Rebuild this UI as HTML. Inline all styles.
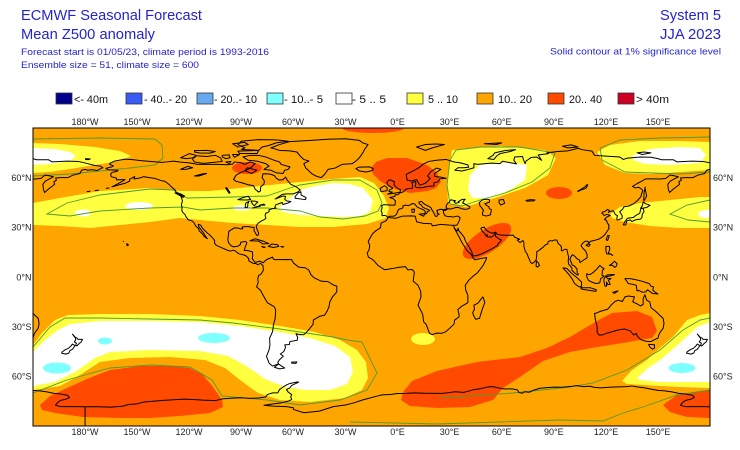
<!DOCTYPE html>
<html><head><meta charset="utf-8">
<style>html,body{margin:0;padding:0;background:#fff}svg{display:block}</style>
</head><body>
<svg width="740" height="450" viewBox="0 0 740 450" xmlns="http://www.w3.org/2000/svg" xmlns:xlink="http://www.w3.org/1999/xlink" font-family="'Liberation Sans', Arial, sans-serif">
<defs>
<clipPath id="mc"><rect x="33" y="128" width="677" height="298"/></clipPath>
</defs>
<rect width="740" height="450" fill="#fff"/>

<!-- Titles -->
<g fill="#2424cc">
<text x="21" y="20" font-size="14.5" textLength="181" lengthAdjust="spacingAndGlyphs">ECMWF Seasonal Forecast</text>
<text x="21" y="39" font-size="14.5" textLength="134" lengthAdjust="spacingAndGlyphs">Mean Z500 anomaly</text>
<text x="21" y="55" font-size="9.5" textLength="248" lengthAdjust="spacingAndGlyphs">Forecast start is 01/05/23, climate period is 1993-2016</text>
<text x="21" y="68" font-size="9.5" textLength="178" lengthAdjust="spacingAndGlyphs">Ensemble size = 51, climate size = 600</text>
<text x="660" y="20" font-size="14.5" textLength="61" lengthAdjust="spacingAndGlyphs">System 5</text>
<text x="660" y="39" font-size="14.5" textLength="61" lengthAdjust="spacingAndGlyphs">JJA 2023</text>
<text x="550" y="54.5" font-size="9.5" textLength="171" lengthAdjust="spacingAndGlyphs">Solid contour at 1% significance level</text>
</g>

<!-- Legend -->
<g stroke="#333" stroke-width="0.8">
<rect x="56" y="93" width="16" height="11" fill="#00008c"/>
<rect x="126" y="93" width="16" height="11" fill="#3a5cf5"/>
<rect x="197" y="93" width="16" height="11" fill="#68aaf0"/>
<rect x="267" y="93" width="16" height="11" fill="#80ffff"/>
<rect x="336" y="93" width="16" height="11" fill="#ffffff"/>
<rect x="407" y="93" width="16" height="11" fill="#ffff40"/>
<rect x="477" y="93" width="16" height="11" fill="#ffa500"/>
<rect x="548" y="93" width="16" height="11" fill="#ff4a00"/>
<rect x="618" y="93" width="16" height="11" fill="#cc0022"/>
</g>
<g fill="#111" font-size="11">
<text x="74" y="103" textLength="34" lengthAdjust="spacingAndGlyphs">&lt;- 40m</text>
<text x="144" y="103" textLength="43" lengthAdjust="spacingAndGlyphs">- 40..- 20</text>
<text x="214" y="103" textLength="43" lengthAdjust="spacingAndGlyphs">- 20..- 10</text>
<text x="284" y="103" textLength="39" lengthAdjust="spacingAndGlyphs">- 10..- 5</text>
<text x="352" y="103" textLength="34" lengthAdjust="spacingAndGlyphs">- 5 .. 5</text>
<text x="428" y="103" textLength="30" lengthAdjust="spacingAndGlyphs">5 .. 10</text>
<text x="498" y="103" textLength="34" lengthAdjust="spacingAndGlyphs">10.. 20</text>
<text x="569" y="103" textLength="33" lengthAdjust="spacingAndGlyphs">20.. 40</text>
<text x="636" y="103" textLength="33" lengthAdjust="spacingAndGlyphs">&gt;  40m</text>
</g>

<!-- Map -->
<g clip-path="url(#mc)">
<rect x="33" y="128" width="677" height="298" fill="#ffa500"/>

<!-- yellow -->
<g fill="#ffff40">
<path d="M33,143 L60,144 95,147 120,151 131,156 120,161 95,165 70,169 50,172 33,173 Z"/>
<path d="M597,152 L610,145 640,141 680,141 710,142 710,170 680,172 650,174 625,173 605,165 Z"/>
<path d="M33,203 L60,198 100,191 150,188 180,191 210,191 250,187 280,184 300,182 333,179 360,177 374,183 384,196 389,208 386,218 367,224 333,227 300,227 267,225 233,223 200,220 180,218 150,222 120,225 90,228 60,226 33,225 Z"/>
<path d="M452,150 L500,146 545,150 556,158 548,175 525,188 495,198 465,207 448,203 447,180 Z"/>
<path d="M610,214 L620,207 640,203 670,200 700,197 710,197 710,228 680,228 650,226 625,222 612,218 Z"/>
<path d="M33,345 L42,333 55,320 68,315 100,314 150,314 200,316 240,320 280,326 315,332 340,340 357,350 366,362 368,378 362,390 345,398 310,402 280,400 258,393 240,380 225,368 205,360 170,357 130,358 100,362 80,375 60,386 33,390 Z"/>
<ellipse cx="423" cy="339" rx="12" ry="6"/>
<path d="M622,381 L632,370 647,360 660,348 673,337 687,320 700,315 710,313 710,388 680,387 660,386 627,384 Z"/>
</g>

<!-- white -->
<g fill="#ffffff">
<path d="M33,148 L55,149 70,152 76,156 70,161 50,164 33,165 Z"/>
<path d="M633,155 L650,149 680,147 700,148 706,155 700,163 670,165 645,164 633,160 Z"/>
<ellipse cx="83" cy="213" rx="8" ry="3.5"/>
<ellipse cx="139" cy="206" rx="14" ry="4"/>
<ellipse cx="242" cy="208" rx="9" ry="2.8"/>
<path d="M278,208 L290,198 300,190 315,186 333,183 350,184 363,188 373,200 370,212 360,216 343,217 320,216 300,215 283,212 Z"/>
<path d="M470,175 L480,165 510,162 527,165 525,180 510,190 490,198 472,198 468,190 Z"/>
<ellipse cx="707" cy="214" rx="9" ry="4"/>
<path d="M33,352 L45,340 58,330 70,324 100,321 150,321 200,322 240,326 280,332 310,338 335,346 350,357 353,372 347,384 330,390 305,390 285,387 265,379 248,367 228,356 200,351 150,350 110,352 95,358 75,372 55,382 33,386 Z"/>
<path d="M637,378 L648,368 660,360 680,343 697,327 710,322 710,382 680,382 660,382 640,380 Z"/>
</g>

<!-- cyan -->
<g fill="#80ffff">
<ellipse cx="57" cy="368" rx="14" ry="5.5"/>
<ellipse cx="105" cy="341" rx="7" ry="3.5"/>
<ellipse cx="214" cy="338" rx="16" ry="5"/>
<ellipse cx="682" cy="368" rx="13.5" ry="5"/>
</g>

<!-- red -->
<g fill="#ff4a00">
<ellipse cx="247" cy="168" rx="15" ry="6"/>
<ellipse cx="373" cy="128" rx="31" ry="5"/>
<path d="M371,168 L376,162 387,158 407,158 427,165 437,173 441,182 436,188 428,191 410,193 392,188 380,181 373,174 Z"/>
<ellipse cx="559" cy="193" rx="13" ry="6"/>
<ellipse cx="487" cy="241" rx="28" ry="11.5" transform="rotate(-33 487 241)"/>
<path d="M40,405 L50,396 67,388 87,379 110,370 140,366 170,366 190,368 203,375 213,387 222,400 223,407 210,413 180,416 150,418 120,418 83,417 55,413 42,410 Z"/>
<path d="M403,392 L412,381 437,371 477,362 520,357 547,348 570,337 597,321 612,313 637,311 652,317 657,331 652,338 623,343 597,347 570,352 543,361 520,377 503,388 493,400 470,407 437,408 410,406 401,400 Z"/>
<path d="M663,405 L677,395 697,392 710,390 710,418 687,417 670,412 Z"/>
</g>

<!-- significance contours -->
<g fill="none" stroke="#4f9a30" stroke-width="0.9">
<path d="M33,139 L100,138 155,139 162,145 163,158 155,165 130,168 100,171 70,174 33,176"/>
<path d="M710,137 L660,138 620,140 600,148 602,160 625,172 680,174 710,172"/>
<path d="M47,214 L67,203 100,195 150,189 173,190 187,198 233,197 267,196 290,188 300,185 333,180 360,180 377,190 382,203 378,211 365,216 343,219 320,217 300,211 267,208 233,208 200,210 183,207 150,208 100,211 70,216 47,214 Z"/>
<path d="M450,204 L447,185 450,160 456,150 480,147 520,147 555,153 550,168 532,182 505,193 480,200 462,206 Z"/>
<path d="M710,200 L687,205 670,214 688,220 710,222"/>
<path d="M33,347 L50,327 65,318 100,318 150,319 200,320 233,323 280,329 333,337 347,340 362,342 377,373 367,390 340,400 300,405 267,400 222,396 212,380 190,367 150,365 110,368 67,380 33,393"/>
<path d="M440,398 L513,393 570,387 593,383 627,370 660,350 683,330 700,320 710,318"/>
<path d="M350,422 L437,424 560,420 603,421 623,413 643,407 677,395 710,390"/>
</g>

<!-- coastlines -->
<g id="coastwrap" transform="matrix(1.7359,0,0,-1.6556,397.54,277)" fill="none" stroke="#000" stroke-width="1" stroke-linejoin="round">
<g id="coast">
<path vector-effect="non-scaling-stroke" d="M-166,68.5 L-163,70 -157,71.2 -152,70.8 -148,70.3 -141,69.7 -136,69.2 -133,69.5 -129,70 -125,69.4 -120,68.9 -115,68 -110,68 -104,68 -98,67.8 -95,68.2 -94,69.5 -90,69 -88,68 -85,69.5 -82,68.5 -84,66.5 -87,64.5 -90.5,63 -93,61.5 -94.5,59 -93,57.8 -90,57 -86,55.7 -83,55.2 -82,53 -80,51.3 -79,52 -78.8,54.5 -77,56 -76.7,58 -78,60 -77.5,62.4 -74,62.3 -71,61.3 -69.7,59.5 -68,58.5 -66,58.8 -64.5,60.3 -63.5,58.5 -61.5,56 -58.5,54.5 -56,52.5 -57.5,51.3 -60,50.2 -64,50.2 -66.5,49.8 -70.5,47.1 -66,48.9 -64.5,48.7 -65,47 -64,46 -61.5,45.6 -63,44.7 -66,43.8 -66.5,45 -69,44 -70.2,43.6 -70.7,42.1 -70,41.6 -71.5,41.4 -74,40.6 -74,39.6 -75,38.8 -76,38.5 -76.3,37 -75.8,35.5 -76.7,34.7 -78.5,33.8 -80.5,32.3 -81.4,30.7 -81,29 -80,26.5 -80.3,25.2 -81.2,25.2 -81.8,26.5 -82.7,28 -82.6,29.8 -84,30.1 -86,30.4 -88,30.4 -89.5,30.2 -89.2,29.1 -90.5,29.1 -92,29.6 -94,29.7 -95.3,28.8 -97.2,27.6 -97.4,25.5 -97.8,22.5 -97.2,20.5 -96,19 -94.5,18.2 -92,18.6 -90.6,19.5 -90.3,21 -87.5,21.5 -86.8,20.5 -87.7,18.3 -88.3,16.1 -86,15.9 -83.6,15.2 -83.4,13 -83.7,11 -82.2,9 -81.5,8.9 -79.5,9.6 -77.4,8.6 -75.5,10.5 -72,12 -71.5,10.8 -71,10.5 -68,10.5 -64,10.6 -61,10.5 -60,8.5 -57,6 -53,5.5 -51,4 -50,1.5 -48,-0.5 -44,-2.5 -40,-2.8 -37,-4.8 -35,-5.5 -35,-9 -37.5,-12 -39,-15 -39.5,-18 -40.5,-20.5 -42,-23 -45,-23.8 -48.5,-26 -48.6,-28.5 -50.5,-31 -52.5,-33.5 -54,-34.8 -56.5,-34.8 -58.5,-34.2 -57.5,-36.5 -57.8,-38.2 -62,-39 -62.3,-40.8 -65,-41 -64.5,-42.5 -65.5,-45 -67.5,-46.5 -65.8,-47.8 -68,-50 -69,-51.6 -68.5,-52.5 -70,-53 -72,-53.8 -74,-52 -75.5,-48 -74,-44 -73.5,-41 -73.7,-37 -72,-33 -71.5,-29 -70.5,-25 -70.2,-20 -71,-18 -75,-15.5 -76.4,-13 -79,-8 -81.2,-6 -80.3,-3.4 -80.5,-1 -80,1 -78.8,1.5 -77.3,4 -77.5,7 -77.9,7.2 -79,8.3 -80.4,7.4 -81.7,8.1 -83.5,8.4 -85.7,9.8 -85.7,11.2 -87.5,12.9 -89.3,13.5 -91.4,14 -93.5,15.8 -94.8,16.2 -96.5,15.6 -99,16.6 -101.5,17.8 -104.5,19.2 -105.5,20.6 -105.3,21.7 -106,23 -108,25.2 -109.5,26.5 -111,28 -112.3,29.4 -113.4,31.3 -114.8,31.8 -114.5,30.3 -113.3,28.7 -112,27 -110.5,24.3 -109.5,23.2 -110.2,23.6 -111.6,24.7 -112.3,26 -114.2,27.8 -114.6,29.2 -116.3,30.8 -117.1,32.5 -118.3,33.8 -120.6,34.6 -121.9,36.5 -122.5,37.8 -123.7,39 -124.3,40.4 -124.1,42 -124.5,43.5 -123.9,46.2 -124.7,48.4 -123.2,48.2 -122.8,49 -125,50.2 -127.5,51 -128,52.4 -130.2,54.4 -131.5,55.8 -133.8,57.7 -136.6,58.4 -139.9,59.6 -143,60 -146.3,60.6 -148.5,59.8 -151.8,59.2 -151.4,60.7 -154.4,59 -154.3,57.9 -157,56.6 -160,55.8 -162.6,55 -164.6,54.5 -161.8,55.9 -159,57.6 -157,58.8 -158.5,58.8 -161.9,58.7 -162,59.7 -164.9,60.6 -165.3,62 -164.5,63.2 -161.5,63.8 -161,64.5 -163.6,64.6 -166.4,64.7 -168,65.6 -164.5,66.6 -163.7,67.1 -166,68.2 -166,68.5"/>
<path vector-effect="non-scaling-stroke" d="M-123.4,48.3 L-125,49 -128.2,50.8 -126,50.4 Z M-73,78 L-68,80 -62,81.8 -50,82.5 -40,83.2 -30,83.5 -22,82.5 -20,81 -17,80 -19,77 -20,75 -22,72 -24,70 -26,68.5 -32,68 -36,65.8 -40,65 -42,62 -44,60 -47,61 -49.5,62.5 -51,64 -53,66 -54,68.5 -51,70 -54,71 -56,73 -58,75.5 -62,76.2 -68,76.5 -71,77.5 Z M-80,73.5 L-76,72.5 -71,70.5 -68,69.5 -67,68 -62,66.5 -63,65 -65,64.5 -66,62.5 -70,63 -73,64.5 -77,65 -74,67 -76,68.5 -81,70 -86,70.5 -89,72.5 -85,73.5 Z M-118,72 L-116,73.2 -110,72.8 -105,73.5 -102,72 -101,69.8 -106,69.2 -112,68.6 -117,69.5 -118,71 Z M-90,77 L-80,76.5 -78,78.5 -74,79.5 -70,81 -63,82 -70,82.8 -80,83 -90,82 -92,80 -88,78 Z M-125,72 L-120,74.5 -116,73.5 -117,72 -122,71.5 Z M-92,76 L-80,76.5 -81,74.6 -91,74.6 Z M-117,76.3 L-110,76.5 -105,75.8 -108,74.8 -114,74.9 -117,75.5 Z M-101,73.5 L-97,73.8 -96.5,72 -99,71.5 -101,72.5 Z M-95,74 L-91,74 -94,72.3 Z M-95,80.5 L-88,81.3 -86,80 -92,78.5 Z M-86.5,66 L-81,64.5 -84,62.5 -88,64.2 Z M-99,69.5 L-96,69.8 -97,68.5 Z M-59,47.6 L-55,47 -53,46.7 -52.7,48 -55.5,49.5 -55.7,51.5 -57.3,50.7 -59,48.5 Z M-85,21.9 L-82,23.1 -77,21.5 -74.2,20.2 -77.5,19.9 -80,21.7 -83,21.8 Z M-74.5,18.5 L-72.5,19.9 -69,19.5 -68.4,18.5 -71.5,17.8 Z M-78.3,18.4 L-76.2,18 -77,17.8 Z M-67.2,18.4 L-65.6,18.3 -66,18 Z M-156,20.2 L-155,19.3 -155.8,18.9 Z M-158.2,21.6 L-157.7,21.3 M-166,53.8 L-168,53.5 M-172,52.5 L-174.5,52.2 M-177,51.8 L-179,51.6"/>
<path vector-effect="non-scaling-stroke" d="M-92,46.7 L-89,48 -86,48.8 -84.6,46.8 -87,46.5 -90,46.6 Z M-87.8,42 L-87.5,44.5 -85.5,45.8 -86.3,44 -86.3,42.2 Z M-84.5,45.9 L-82,45.8 -80.5,45.3 -81.7,44 -82.5,43 -83.5,44 Z M-83.4,41.7 L-79,42.8 -81,42.5 Z M-79.7,43.3 L-76.3,43.5 -77,44 Z M-125,65 L-121,66.8 -118,66 -122,65 Z M-117,61 L-112,62.4 -110,62.5 -114.5,61 Z M-99,53.8 L-97,50.5 -96.5,51 -98.5,54 Z"/>
<path vector-effect="non-scaling-stroke" d="M-68.6,-52.6 L-65,-55 -68,-55.5 -71,-54.5 Z M-61,-51.4 L-58,-51.3 -58.5,-52.2 -61,-52 Z"/>
<path vector-effect="non-scaling-stroke" d="M32.3,31.2 L30,31.3 25,31.8 20,30.9 19.5,32.2 15,32.4 11,33.3 10.2,36.7 8.5,36.9 3,36.8 -1,35.5 -5.5,35.9 -6.5,34 -9.5,32.5 -9.8,29.8 -13,27.5 -14.5,26 -16.9,21.5 -16,19 -16.5,16 -17.5,14.7 -16.8,12 -15,11 -13.3,9.5 -11.3,7 -7.5,4.4 -3,5.1 1,5.9 4.5,6.3 6,4.3 8.5,4.5 9.7,3 9.3,0 9,-2.5 11.8,-5 13.3,-8.5 13.5,-12 11.8,-17 14.5,-22.5 15,-27 16.5,-28.6 18.4,-34 20,-34.8 22.5,-33.9 25.5,-34 27.5,-33.2 30,-31 32.5,-28.5 32.9,-26 35.5,-24 35.3,-22 34.7,-19.7 36.8,-17.8 40.5,-15.5 40.5,-11 39.3,-8 39,-5 41,-2 43.5,0.5 46,2.5 49,6.5 51,10.5 51.3,11.8 48,11.2 44.5,10.4 43.3,11.8 42.5,13.5 40,16 38.5,18.5 37,21 35.7,23.8 34,27 32.5,29.9 M49.2,-12 L50.3,-15.5 49.5,-17.5 48.5,-20.5 47.2,-25 45,-25.5 43.7,-23 43.3,-21.5 44.3,-19.5 44,-17 46.3,-15.8 48,-13.5 Z"/>
<path vector-effect="non-scaling-stroke" d="M-9,37 L-8.9,38.8 -9.5,40 -8.8,42 -9.3,43 -8,43.7 -4,43.4 -1.5,43.4 -1.2,46 -2.5,47.3 -4.5,48 -1.5,48.7 -1.5,49.7 0.2,49.7 1.6,50.9 3.5,51.5 4.7,53 7,53.5 8.5,53.6 8.7,55.5 8.2,57 10.5,57.7 10.5,56 10,54.8 11,54 14,53.9 18,54.8 21,55 21,57 23.5,57.5 24.3,59.3 28,59.6 25,60.3 21.5,60.7 21.3,62.5 25,65 22.5,65.8 19,63.5 17.3,61 18.8,59.5 16.5,57 14.5,56 12.8,55.5 11,58.8 8,58 5.5,58.5 5,62 8,63.5 12,65.8 15,68.3 18,69.8 23,70.6 28,71 31,70 33,69.4 36,69 40.5,67.7 41,66.3 38,66 34.8,66 33,64.5 37,64 39.5,64.6 44,66 44,68.5 46,68 54,68.8 59,68.5 60.5,69.9 65,69 68.5,68.3 67,70.5 67.5,72.5 72,72.8 72.5,71 73.5,68.5 74,70 77,72.2 80,72.5 83,70.5 81,73.7 87,74.5 86,75 92,75.8 98,76.2 104,77.7 106.5,76.9 112,76 113.5,73.5 120,73 128,72.5 130,71 132.5,71.8 140,72.5 146,72.3 150,71.5 152,70.8 159,70.8 161,69.5 168,69.9 170,70 176,69.8 180,68.9 M180,65 L178,64.5 177,62.5 173,61.5 170,60 166,60 163,59.8 163.5,58.5 162,57.5 162.5,56 160,54 158.5,52.8 156.7,51 156,53 155.7,56 157,57.8 159,59 161.8,60.5 160,61 157,61.6 154.5,59.5 151,59.2 147,59.3 143,59.3 140.5,57.8 138,56.4 135.3,54.7 137,53.8 139,54.2 140.5,53.2 141.3,52.2 140.5,50 140.2,48.5 138.5,46.5 136,44.2 133,42.8 131,42.5 130.3,42.3 129.7,41 128,39.5 129.4,37 129.4,35.5 127.5,34.6 126.5,34.4 126.3,35.5 126.7,37 125.5,37.7 125,38.7 124.3,40 122,39.5 121.5,38.9 122,40.3 121,40.8 119.3,39.5 118,39.2 117.7,38.5 118.8,37.5 119,37.2 120.7,37.8 122.5,37.2 120.5,36.2 119.2,34.8 120.3,34.2 121,32.5 121.9,31 121.5,30.2 122,29.5 121,28 119.5,25.7 117.5,23.8 116,22.9 114,22.3 111,21.5 110.2,20.3 109.7,21.6 108,21.6 106.5,20.2 105.7,18.9 106.6,17.5 108.3,15.8 109.2,13.5 109.2,11.6 107.5,10.5 105.1,8.7 104.8,10.2 103,11.3 102.5,12.2 100.8,13.5 100,12.4 99.3,10.5 100.3,8.3 100.5,7.3 101.7,6.8 103.3,5 103.5,2.8 104.2,1.4 103.5,1.3 102,2.5 100.5,4 100.4,5.5 98.5,8 98.3,10 98.6,12 98.2,13.5 97.6,16.5 97,16.8 96,16.6 95,15.8 94.3,16 94.5,17.5 94,19 93,19.8 92.4,20.6 91.8,22.3 90.5,22.4 89,21.7 88,22 86.8,21.4 86.5,20 85,19.3 84,18.1 82.3,16.8 81.2,15.8 80.2,15.3 80.2,13 79.8,10.2 79,9.3 78.2,8.6 77.5,8.1 76.5,9 76,10.5 75.4,11.8 74.6,14 73.5,15.8 72.8,18.5 72.8,20.5 72.6,21.4 72.2,22 70.5,20.8 69,22.3 70.3,22.8 68.8,23.5 67.5,24 66.7,25.3 64.5,25.2 62,25.2 59.5,25.4 57.3,25.8 56.6,27.1 54.7,26.5 53.5,26.8 51.5,27.9 50.5,29.2 50,30.1 48.5,29.8 48,29.3 48.8,27.6 50,26.6 50.8,25 51.4,24.6 51.6,25.8 51.6,24.3 52.6,24.2 54,24.1 55.5,25.2 56.3,26.4 56.5,24.5 57.8,23.5 58.8,22.8 59.8,22.4 58.9,21 58,20.4 57.7,19 56.6,18.5 55.3,17.6 54,16.8 52.2,15.9 49.5,14.5 47.3,13.5 45.4,12.9 43.5,12.7 43,14 42.6,15.8 41.8,17 40.8,19 39.5,21 39,22 38.4,24 37.2,25.6 36.3,26.8 35.2,28 34.9,29.5 34.3,27.8 33.6,28.5 32.6,29.9 32.3,31.2 34.2,31.3 35,32.8 35.8,34.6 36,36 34.5,36.8 32,36.2 30.5,36.5 29,36.5 27.3,37 27,37.8 26.5,38.5 26.5,39.5 26.2,40.1 28,40.4 29,41.2 31,41.1 33.5,42 35,42 37,41.2 38.5,40.9 40,41 41.5,41.5 41.7,42.5 40,43.4 38.2,44.4 37.5,44.7 38.3,46.2 39,47 37,46.8 35,45.5 35.5,45.1 33.5,44.5 32.5,45.4 33.5,46 31,46.6 30.5,46.5 29.7,45.2 28.7,44.3 28,43 28,42 28.8,41.1 27.5,40.9 26.5,40.6 26.2,40.8 25,40.9 24,40.7 23,40.3 22.6,40.1 23,39.3 22.8,38.5 24,38 23,37.4 22.5,36.5 21.7,36.8 21.4,37.7 21,38.5 20.5,39.5 19.8,40.5 19.5,41.5 18.5,42.4 17,43.2 15.5,44 14.5,45 13.7,45.7 12.3,45.3 12.5,44.3 13.7,43.5 14.5,42.2 16,41.4 18,40.6 18.5,40.1 17,39.3 17.1,38.9 16.1,38 15.7,38.3 16,39.5 15.6,40.1 14.8,40.6 13.7,41.2 12.2,41.8 11.1,42.5 10.5,43.3 10.2,43.9 8.8,44.4 7.5,43.8 6.5,43.1 4.5,43.4 3.1,43 3.2,41.9 2,41.2 0.8,41 0,39.6 -0.3,38.5 -0.8,37.6 -2,36.8 -4.4,36.7 -5.6,36 -6.3,36.8 -7.4,37.2 -9,37"/>
<path vector-effect="non-scaling-stroke" d="M-180,68.9 L-175,67.5 -171,66.9 -169.7,66 -171,65.5 -173,64.3 -176,64.8 -178.5,64.5 -180,65 M-180,71.5 L-177,71.3 -178,70.9 -180,71"/>
<path vector-effect="non-scaling-stroke" d="M47,45 L49,46.6 51.5,47 53,46.7 53,45.3 51.2,44.5 50.3,44.3 51.3,43.2 52.6,42.5 52.9,41.2 54,40.8 53.9,39.5 53.5,37.5 51,36.8 49,37.5 48.9,38.6 49.5,40.2 48.5,41.8 47.5,43 Z M58.5,46.5 L61,46.8 61.7,44.5 59.5,43.5 58.5,44.8 Z M104,51.7 L106,52.7 108.5,53.5 109.6,55.6 109.2,55.8 108,54.5 105.5,52.8 103.8,51.8 Z M74,46.3 L76.5,46.7 79.2,46.5 78.5,46 74.5,45.8 Z"/>
<path vector-effect="non-scaling-stroke" d="M-5.7,50 L1.4,51.2 1.7,52.7 0,53.5 -1.5,55 -2,56 -1.8,57.6 -4,58.6 -5,58.6 -6.2,57 -5.5,55.5 -4.8,54.8 -3,54 -3,53.3 -4.5,52.8 -5,51.7 -3,51.3 Z M-6,52.2 L-6,54 -7.5,55.2 -8.5,54.5 -10,53.5 -9.5,51.6 Z M-22,64 L-24,65.5 -22,66.4 -16,66.5 -14,65.5 -14.5,64.3 -18,63.4 Z M11,78.5 L16,80 22,80.3 27,80 20,78 16,76.5 Z M52,71.5 L55,73.5 56,75 62,76.4 68,76.9 65,75.8 59,74.5 57,73 55.5,71 Z M12.4,38 L15.6,38.3 15.1,36.7 Z M8.4,39 L9.6,39.1 9.8,41 8.2,40.9 Z M95,79 L100,79.8 104,78.5 98,78 Z M50,80.5 L60,81 57,80 Z M138,75 L142,75.5 146,75 141,74 Z M79.8,6.5 L80,9.7 81.2,8.5 81.8,7 80.6,6 Z"/>
<path vector-effect="non-scaling-stroke" d="M142,46 L143.5,49 142.5,54 142.7,54.3 142,51 141.8,46.7 Z M130,31.5 L131,33.5 132.5,35.5 136,36 137,37 139.5,38.5 140,40.5 140.2,41.5 141.5,41.3 142,39.5 141,38 140.8,36 140,35 137,34.5 135,33.5 134,34.5 132,33.8 131.5,31.5 Z M140,41.5 L141,43 141.5,45.3 143,44.2 145.5,43.3 143.5,42 141,41.5 Z M120.2,22.5 L121,25 122,25 121,22 Z M108.6,19.2 L110,20.1 111,19.6 110,18.4 Z M120,18.5 L122,18.5 122.3,17 121.5,14.5 124,13 123,13.8 120.5,14 120,16 Z M122,7 L123.5,8 125,9.5 126.5,8 126,6.5 125,5.8 124,7 Z"/>
<path vector-effect="non-scaling-stroke" d="M109,2 L110,1.5 111,1.5 113,3 115,5 116.5,7 117.5,6 119,5 118,4 117.8,1 119,0.5 117,-1 116.5,-3.5 114.5,-4 111.7,-3 110,-2 109,0 Z M95.3,5.5 L97.5,5.2 100.3,2.2 103.5,-0.5 106,-3 106,-5.8 104.5,-5.9 102,-4 100.5,-1 98.5,1.8 Z M105.5,-6.5 L108.5,-6.5 111,-6.5 114.5,-7.7 114.3,-8.7 110,-8 106,-7.3 Z M119.5,-5.5 L119,-3 118.8,-1.5 120,0.7 121,1.3 124.5,1.5 125,1.4 122,0.5 120.2,0.2 121,-1 123,-0.9 121.5,-2 122.5,-4.5 121,-4.5 120.4,-3 120.4,-5.6 Z M131,-1 L134,-1 138,-1.8 141,-2.6 145,-4 146,-5.5 147.5,-6 147,-8 150,-10.3 147,-10 144,-7.7 143,-9 141,-9.2 139,-8.1 138,-8.4 137.5,-5 135,-4.3 133,-4 132,-2.5 Z M124,-9.3 L127,-8.4 125,-9.9 Z"/>
<path vector-effect="non-scaling-stroke" d="M113.5,-22 L114,-26 115,-30 115,-33.5 116,-35 118,-35 121,-33.8 124,-33 126,-32.3 129,-31.6 131,-31.5 134,-32.5 136,-35 137.5,-34 138,-35.5 140,-37.8 143,-38.8 146,-39 148,-37.8 150,-37 150.5,-35 151.5,-33 153,-31 153.5,-28 153,-25 151,-23 149,-21 146,-18.5 145.3,-15 143.5,-14 142.5,-10.7 141.5,-13 141.5,-16.5 140,-17.5 137.5,-16 135.5,-15 136.5,-12 133,-11.5 131,-12 129.5,-14.8 127,-14 125,-15 123,-17 121,-19.5 117,-20.7 114,-22 Z M144.7,-40.7 L148,-40.9 148,-43 146.8,-43.6 145.3,-42.2 Z M172.7,-34.5 L174.5,-36.5 175.5,-37 176,-37.7 178.5,-37.7 177.8,-39.2 176.8,-40 175.3,-41.6 174.6,-41.3 175,-40 173.8,-39.2 174.6,-38 174.5,-37 Z M172.7,-40.5 L174.2,-41.5 173.5,-42.5 172.8,-43.6 171.2,-44.5 170.7,-45.9 169,-46.6 166.5,-46 166.7,-45.3 168.5,-44 170.5,-43 172,-41.5 Z"/>
<path vector-effect="non-scaling-stroke" d="M-180,-78.4 L-175,-78.3 -165,-78.6 -158,-78 -155,-77 -150,-76.6 -146,-75.5 -140,-75 -135,-74.5 -130,-74.2 -123,-73.8 -118,-74 -112,-74.4 -105,-74.7 -101,-73.6 -96,-73.2 -90,-72.9 -85,-73.3 -80,-73.1 -76,-72.5 -75,-71 -72,-70 -69,-70 -68,-68 -66,-66.5 -64,-65.2 -62,-64.3 -58,-63.4 -57,-63.5 -59,-64.5 -61,-65.5 -62,-66.9 -64,-68 -63,-69.5 -61,-71 -61.5,-72.5 -61,-74 -63,-75 -67,-76 -74,-77 -77,-77.5 -72,-78 -64,-78.3 -60,-79 -60,-80 -54,-82 -45,-81 -37,-78.3 -30,-77.3 -25,-76 -20,-74.2 -17,-73.4 -12,-72 -9,-71.2 -4,-71 0,-70.4 5,-70.3 10,-70 15,-70.2 20,-70.3 26,-70.3 30,-69.8 33,-69.3 38,-69.7 40,-69.2 44,-68 48,-67.4 52,-66.4 55,-66.2 58,-67 61,-67.6 66,-67.6 69,-68.2 70,-69.8 72,-70.2 73,-69.3 76,-69.6 78,-68.5 82,-67.2 86,-66.8 90,-66.5 95,-66.6 100,-66.1 103,-65.6 107,-66.2 111,-66 113,-66.6 117,-67 122,-66.6 127,-66.4 132,-66.2 135,-65.8 138,-66.4 142,-66.9 146,-67.7 150,-68.5 154,-68.8 158,-69.4 162,-70.3 166,-70.7 170,-71.5 171,-72.8 169,-73.8 166,-74.5 164,-76 163,-77.5 166,-78.3 170,-78.2 175,-78.3 180,-78.4 M-180,-78.4 L-180,-90"/>
</g>
<use xlink:href="#coast" href="#coast" transform="translate(-360,0)"/>
</g>
</g>
<rect x="33" y="128" width="677" height="298" fill="none" stroke="#000" stroke-width="1"/>

<!-- axis labels -->
<g fill="#222" font-size="9" text-anchor="middle">
<text x="85" y="125">180°W</text><text x="137" y="125">150°W</text><text x="189" y="125">120°W</text><text x="241" y="125">90°W</text><text x="293" y="125">60°W</text><text x="345.5" y="125">30°W</text><text x="397.5" y="125">0°E</text><text x="449.6" y="125">30°E</text><text x="501.7" y="125">60°E</text><text x="553.8" y="125">90°E</text><text x="606" y="125">120°E</text><text x="658" y="125">150°E</text>
<text x="85" y="435">180°W</text><text x="137" y="435">150°W</text><text x="189" y="435">120°W</text><text x="241" y="435">90°W</text><text x="293" y="435">60°W</text><text x="345.5" y="435">30°W</text><text x="397.5" y="435">0°E</text><text x="449.6" y="435">30°E</text><text x="501.7" y="435">60°E</text><text x="553.8" y="435">90°E</text><text x="606" y="435">120°E</text><text x="658" y="435">150°E</text>
</g>
<g fill="#222" font-size="9" text-anchor="end">
<text x="31.5" y="181">60°N</text><text x="31.5" y="230.7">30°N</text><text x="31.5" y="280.3">0°N</text><text x="31.5" y="330">30°S</text><text x="31.5" y="379.7">60°S</text>
</g>
<g fill="#222" font-size="9">
<text x="713" y="181">60°N</text><text x="713" y="230.7">30°N</text><text x="713" y="280.3">0°N</text><text x="713" y="330">30°S</text><text x="713" y="379.7">60°S</text>
</g>
</svg>
</body></html>
